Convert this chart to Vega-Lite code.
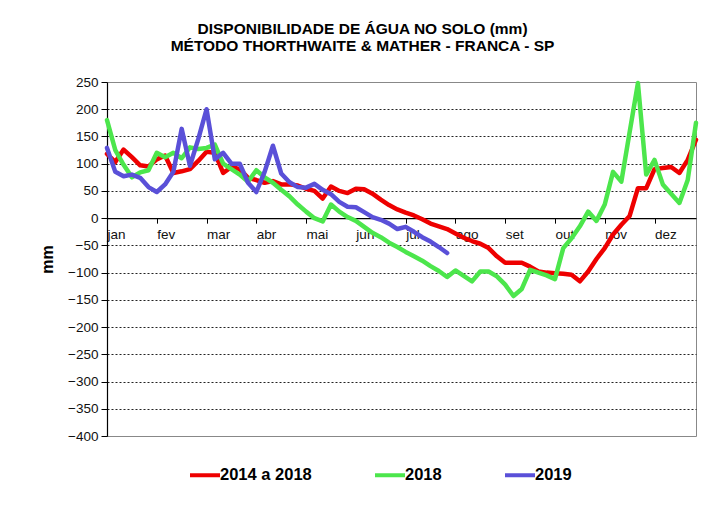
{
  "$schema": "https://vega.github.io/schema/vega-lite/v6.json",
  "width": 589,
  "height": 354,
  "autosize": {"type": "none"},
  "padding": {"left": 107, "top": 82, "right": 25, "bottom": 75},
  "background": "white",
  "title": {
    "text": ["DISPONIBILIDADE DE ÁGUA NO SOLO (mm)", "MÉTODO THORTHWAITE & MATHER - FRANCA - SP"],
    "font": "Liberation Sans",
    "fontSize": 15.5,
    "fontWeight": "bold",
    "color": "black",
    "anchor": "middle",
    "frame": "group",
    "dx": -39,
    "offset": 21,
    "lineHeight": 17
  },
  "config": {
    "view": {"stroke": "#888888", "strokeWidth": 1},
    "font": "Liberation Sans"
  },
  "data": {
    "values": [
      {"p": 0, "a": 118, "b": 180, "c": 129},
      {"p": 1, "a": 103, "b": 125, "c": 85},
      {"p": 2, "a": 126, "b": 98, "c": 77},
      {"p": 3, "a": 112, "b": 75, "c": 80},
      {"p": 4, "a": 97, "b": 84, "c": 74},
      {"p": 5, "a": 95, "b": 88, "c": 57},
      {"p": 6, "a": 108, "b": 120, "c": 48},
      {"p": 7, "a": 115, "b": 112, "c": 62},
      {"p": 8, "a": 83, "b": 120, "c": 85},
      {"p": 9, "a": 86, "b": 110, "c": 164},
      {"p": 10, "a": 90, "b": 130, "c": 96},
      {"p": 11, "a": 105, "b": 127, "c": 145},
      {"p": 12, "a": 122, "b": 129, "c": 200},
      {"p": 13, "a": 120, "b": 135, "c": 108},
      {"p": 14, "a": 83, "b": 100, "c": 120},
      {"p": 15, "a": 94, "b": 90, "c": 100},
      {"p": 16, "a": 90, "b": 80, "c": 100},
      {"p": 17, "a": 74, "b": 67, "c": 65},
      {"p": 18, "a": 70, "b": 88, "c": 48},
      {"p": 19, "a": 65, "b": 75, "c": 85},
      {"p": 20, "a": 68, "b": 65, "c": 133},
      {"p": 21, "a": 62, "b": 52, "c": 82},
      {"p": 22, "a": 62, "b": 40, "c": 66},
      {"p": 23, "a": 60, "b": 25, "c": 57},
      {"p": 24, "a": 54, "b": 12, "c": 56},
      {"p": 25, "a": 50, "b": 0, "c": 63},
      {"p": 26, "a": 36, "b": -6, "c": 52},
      {"p": 27, "a": 58, "b": 25, "c": 44},
      {"p": 28, "a": 50, "b": 12, "c": 30},
      {"p": 29, "a": 46, "b": 2, "c": 21},
      {"p": 30, "a": 54, "b": -5, "c": 20},
      {"p": 31, "a": 53, "b": -16, "c": 11},
      {"p": 32, "a": 45, "b": -27, "c": 2},
      {"p": 33, "a": 34, "b": -35, "c": -3},
      {"p": 34, "a": 24, "b": -45, "c": -10},
      {"p": 35, "a": 16, "b": -53, "c": -20},
      {"p": 36, "a": 10, "b": -62, "c": -16},
      {"p": 37, "a": 5, "b": -70, "c": -25},
      {"p": 38, "a": -2, "b": -78, "c": -35},
      {"p": 39, "a": -10, "b": -88, "c": -43},
      {"p": 40, "a": -15, "b": -97, "c": -53},
      {"p": 41, "a": -20, "b": -108, "c": -64},
      {"p": 42, "a": -28, "b": -96},
      {"p": 43, "a": -36, "b": -106},
      {"p": 44, "a": -42, "b": -116},
      {"p": 45, "a": -47, "b": -98},
      {"p": 46, "a": -55, "b": -98},
      {"p": 47, "a": -70, "b": -107},
      {"p": 48, "a": -82, "b": -122},
      {"p": 49, "a": -82, "b": -143},
      {"p": 50, "a": -82, "b": -130},
      {"p": 51, "a": -89, "b": -95},
      {"p": 52, "a": -98, "b": -100},
      {"p": 53, "a": -100, "b": -105},
      {"p": 54, "a": -101, "b": -112},
      {"p": 55, "a": -102, "b": -55},
      {"p": 56, "a": -104, "b": -37},
      {"p": 57, "a": -116, "b": -15},
      {"p": 58, "a": -98, "b": 12},
      {"p": 59, "a": -75, "b": -5},
      {"p": 60, "a": -55, "b": 25},
      {"p": 61, "a": -30, "b": 85},
      {"p": 62, "a": -12, "b": 67},
      {"p": 63, "a": 4, "b": 158},
      {"p": 64, "a": 55, "b": 248},
      {"p": 65, "a": 55, "b": 80},
      {"p": 66, "a": 90, "b": 107},
      {"p": 67, "a": 92, "b": 62},
      {"p": 68, "a": 94, "b": 45},
      {"p": 69, "a": 83, "b": 28},
      {"p": 70, "a": 107, "b": 70},
      {"p": 71, "a": 144, "b": 175}
    ]
  },
  "transform": [
    {"fold": ["a", "b", "c"], "as": ["k", "v"]},
    {"filter": "isValid(datum.v)"},
    {"lookup": "k", "from": {"data": {"values": [
      {"k": "a", "serie": "2014 a 2018", "o": 0},
      {"k": "b", "serie": "2018", "o": 1},
      {"k": "c", "serie": "2019", "o": 2}
    ]}, "key": "k", "fields": ["serie", "o"]}}
  ],
  "mark": {"type": "line", "strokeWidth": 4.5, "strokeJoin": "round", "strokeCap": "round"},
  "encoding": {
    "x": {
      "field": "p",
      "type": "quantitative",
      "scale": {"domain": [0, 71], "nice": false, "zero": false},
      "axis": {
        "title": null,
        "values": [0, 6, 12, 18, 24, 30, 36, 42, 48, 54, 60, 66],
        "labelExpr": "['jan','fev','mar','abr','mai','jun','jul','ago','set','out','nov','dez'][round(datum.value/6)]",
        "labelAlign": "left",
        "labelFont": "Liberation Sans",
        "labelFontSize": 13.5,
        "labelColor": "#111111",
        "labelPadding": 4,
        "offset": -217.85,
        "grid": false,
        "domainColor": "black",
        "domainWidth": 1.2,
        "tickColor": "black",
        "tickSize": 5,
        "labelOverlap": false
      }
    },
    "y": {
      "field": "v",
      "type": "quantitative",
      "scale": {"domain": [-400, 250], "nice": false, "zero": false},
      "axis": {
        "title": "mm",
        "titleFont": "Liberation Sans",
        "titleFontSize": 16,
        "titleFontWeight": "bold",
        "titleColor": "black",
        "titlePadding": 12,
        "values": [-400, -350, -300, -250, -200, -150, -100, -50, 0, 50, 100, 150, 200, 250],
        "labelFont": "Liberation Sans",
        "labelFontSize": 13.5,
        "labelColor": "#111111",
        "labelPadding": 3,
        "domainColor": "black",
        "domainWidth": 1.2,
        "tickColor": "black",
        "tickSize": 6,
        "grid": true,
        "gridColor": {"condition": {"test": "datum.value == 0 || datum.value == 250 || datum.value == -400", "value": "transparent"}, "value": "#222222"},
        "gridDash": [2, 2],
        "gridWidth": 1
      }
    },
    "color": {
      "field": "serie",
      "type": "nominal",
      "scale": {"domain": ["2014 a 2018", "2018", "2019"], "range": ["#ee0000", "#4ce64c", "#5a50d8"]},
      "legend": {
        "title": null,
        "orient": "none",
        "legendX": 81,
        "legendY": 376,
        "direction": "horizontal",
        "symbolType": "stroke",
        "symbolStrokeWidth": 4,
        "symbolSize": 900,
        "labelFont": "Liberation Sans",
        "labelFontSize": 16.5,
        "labelFontWeight": "bold",
        "labelColor": "black",
        "labelOffset": -2,
        "columnPadding": 55
      }
    },
    "order": {"field": "o"}
  }
}
